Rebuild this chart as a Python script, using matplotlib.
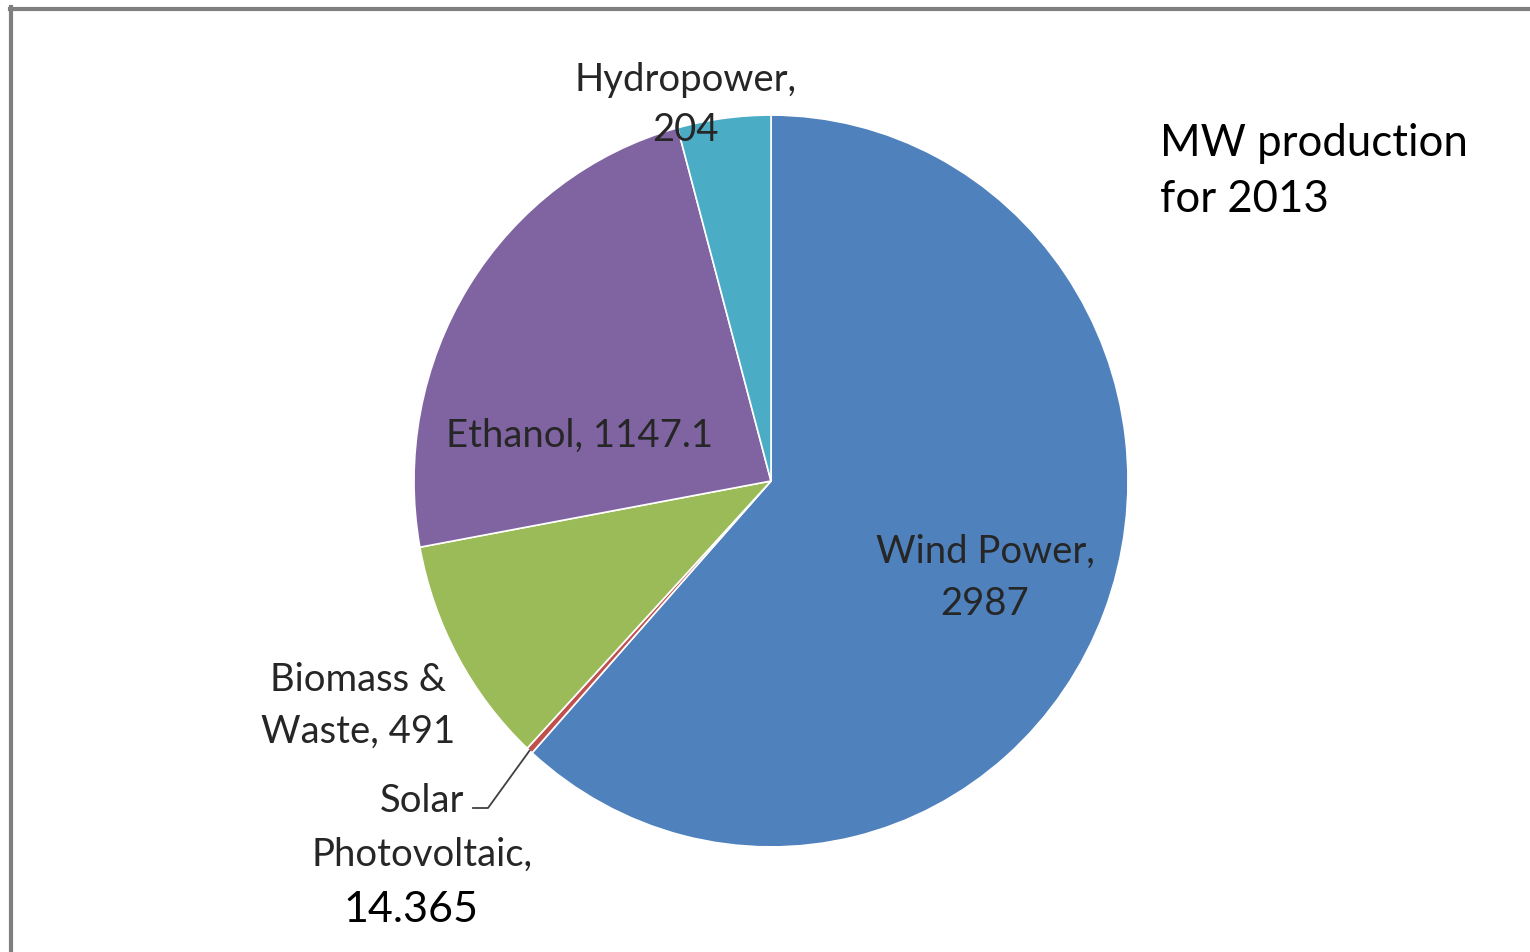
import matplotlib.pyplot as plt
import numpy as np

# data
sources = ["Wind Power", "Solar\nPhotovoltaic", "Biomass &\nWaste", "Ethanol", "Hydropower"]
values = [2987, 14.365, 491, 1147.1, 204]
colors = ["#4F81BD", "#C0504D", "#9BBB59", "#8064A2", "#4BACC6"]

plt.rcParams['font.family'] = ['Lato', 'DejaVu Sans']

W, H = 1530, 952
S = 1.025  # slight vertical stretch of the pie in the original

fig = plt.figure(figsize=(W / 100, H / 100), dpi=100)
ax = fig.add_axes([0, 0, 1, 1])


def py(y):
    # pixel row -> data y
    return (H - y) / S


cx, cy, r = 771, py(481), 357
ax.pie(values, colors=colors, startangle=90, counterclock=False,
       center=(cx, cy), radius=r,
       wedgeprops=dict(edgecolor="white", linewidth=1.2))
ax.set_xlim(0, W)
ax.set_ylim(0, H / S)
ax.set_aspect("auto")
ax.axis("off")

lab = dict(fontsize=27.5, color="#262626", ha="center", va="center")
ax.text(686, py(80), "Hydropower,", **lab)
ax.text(686, py(130), "204", **lab)
ax.text(580, py(436), "Ethanol, 1147.1", **lab)
ax.text(985, py(552), "Wind Power,", **lab)
ax.text(985, py(604), "2987", **lab)
ax.text(358, py(680), "Biomass &", **lab)
ax.text(358, py(732), "Waste, 491", **lab)
ax.text(422, py(801), "Solar", **lab)
ax.text(422, py(855), "Photovoltaic,", **lab)
ax.text(411, py(910), "14.365", fontsize=31, color="black", ha="center", va="center")

# leader line for solar slice
ang = np.deg2rad(90 - 360 * (values[0] + values[1] / 2) / sum(values))
ex, ey = cx + r * np.cos(ang), cy + r * np.sin(ang)
ax.plot([473, 488, ex], [py(808), py(808), ey], color="#404040", lw=1.3)

ax.text(1160, py(143), "MW production", fontsize=31.5, color="black", ha="left", va="center")
ax.text(1160, py(200), "for 2013", fontsize=31.5, color="black", ha="left", va="center")

# gray frame on top / left
fig.add_artist(plt.Line2D([0.0065, 1], [1 - 8.5 / H] * 2, transform=fig.transFigure,
                          color="#7f7f7f", lw=3))
fig.add_artist(plt.Line2D([10.5 / W] * 2, [0, 1 - 7 / H], transform=fig.transFigure,
                          color="#7f7f7f", lw=3))

fig.savefig("out.png", dpi=100, facecolor="white")
